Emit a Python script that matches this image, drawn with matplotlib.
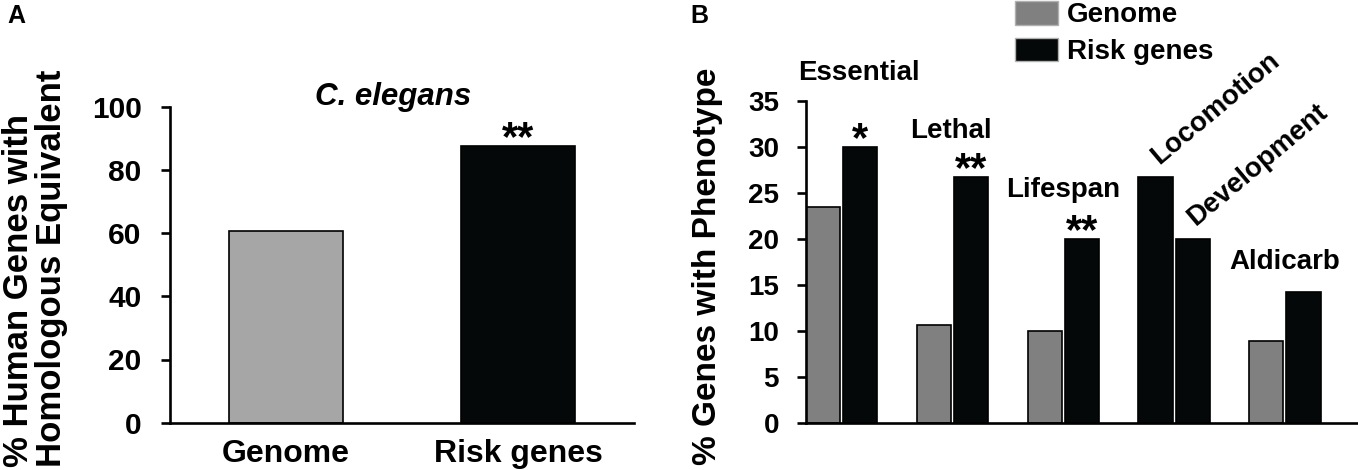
import matplotlib
matplotlib.use('Agg')
import matplotlib.pyplot as plt
from matplotlib.patches import Patch
import numpy as np

# Panel A: human genes with a C. elegans homolog
species = 'C. elegans'
gene_sets = ['Genome', 'Risk genes']
homolog_pct = [60.8, 87.6]
sig_a = ['', '**']

# Panel B: phenotype frequency
phenotypes = ['Essential', 'Lethal', 'Lifespan', 'Locomotion', 'Development', 'Aldicarb']
genome_pct = [23.5, 10.7, 10.0, np.nan, np.nan, 8.9]
risk_pct = [30.0, 26.7, 20.0, 26.7, 20.0, 14.3]
sig_b = ['*', '**', '**', '', '', '']

plt.rcParams['font.family'] = ['Liberation Sans', 'DejaVu Sans']
plt.rcParams['font.weight'] = 'bold'

GRAY_A = '#a6a6a6'
GRAY_B = '#808080'
BLACK = '#050808'

W, H = 1358, 470
fig = plt.figure(figsize=(W / 100, H / 100), dpi=100)


def px_rect(left, top, right, bottom):
    return [left / W, 1 - bottom / H, (right - left) / W, (bottom - top) / H]


def style_axis(ax, fs, pad):
    for s in ['top', 'right']:
        ax.spines[s].set_visible(False)
    for s in ['left', 'bottom']:
        ax.spines[s].set_linewidth(1.9)
    ax.tick_params(axis='y', direction='out', length=6.5, width=1.9,
                   labelsize=fs, pad=pad)
    ax.tick_params(axis='x', length=0)
    for lab in ax.get_yticklabels():
        lab.set_fontweight('bold')


# ---- panel A ----
ax1 = fig.add_axes(px_rect(170, 106.7, 634, 422.7))
xa = np.arange(len(gene_sets))
ax1.bar(xa, homolog_pct, width=0.49, color=[GRAY_A, BLACK],
        edgecolor='black', linewidth=1.2)
ax1.set_xlim(-0.5, 1.5)
ax1.set_ylim(0, 100)
ax1.set_yticks(range(0, 101, 20))
ax1.set_xticks(xa)
ax1.set_xticklabels(gene_sets, fontsize=23, fontweight='bold')
ax1.tick_params(axis='x', pad=12)
style_axis(ax1, 21.5, 14)
for x, v, s in zip(xa, homolog_pct, sig_a):
    if s:
        ax1.annotate(s, (x, v), xytext=(0, -3), textcoords='offset points',
                     ha='center', va='baseline', fontsize=30,
                     fontweight='bold', annotation_clip=False)
ax1.text(0.46, 100.5, species, ha='center', va='baseline', fontsize=22.5,
         fontweight='bold', fontstyle='italic')
fig.text(35.5 / W, 3 / H, '% Human Genes with\nHomologous Equivalent',
         rotation=90, ha='center', va='bottom', multialignment='left',
         fontsize=25, fontweight='bold', linespacing=1.0)
fig.text(7 / W, 1 - 4 / H, 'A', ha='left', va='top', fontsize=18,
         fontweight='bold')

# ---- panel B ----
ax2 = fig.add_axes(px_rect(806, 100.7, 1357, 423.4))
bw = 0.307


def slot_x(slot):
    return slot // 2 + (slot % 2 - 0.5) * 0.335


gx, rx = [], []
slot = 0
for gv in genome_pct:
    if np.isnan(gv):
        gx.append(np.nan)
    else:
        gx.append(slot_x(slot))
        slot += 1
    rx.append(slot_x(slot))
    slot += 1

gx = np.array(gx)
gmask = ~np.isnan(gx)
ax2.bar(gx[gmask], np.array(genome_pct)[gmask], width=bw, color=GRAY_B,
        edgecolor='black', linewidth=1.2)
ax2.bar(rx, risk_pct, width=bw, color=BLACK, edgecolor='black', linewidth=1.2)
ax2.set_xlim(-0.32, 4.65)
ax2.set_ylim(0, 35)
ax2.set_yticks(range(0, 36, 5))
ax2.set_xticks([])
style_axis(ax2, 20, 13)

for x, v, s in zip(rx, risk_pct, sig_b):
    if s:
        ax2.annotate(s, (x, v), xytext=(0, -3), textcoords='offset points',
                     ha='center', va='baseline', fontsize=30,
                     fontweight='bold', annotation_clip=False)

# category label placement (x, y in data units, rotation)
label_pos = {
    'Essential': (0.16, 37.2, 0),
    'Lethal': (0.99, 31.0, 0),
    'Lifespan': (2.0, 24.6, 0),
    'Locomotion': (3.37, 34.2, 40),
    'Development': (3.75, 28.0, 40),
    'Aldicarb': (4.0, 16.8, 0),
}
for name in phenotypes:
    x, y, rot = label_pos[name]
    if rot:
        ax2.text(x, y, name, ha='center', va='center', rotation=rot,
                 rotation_mode='anchor', fontsize=20, fontweight='bold',
                 clip_on=False)
    else:
        ax2.text(x, y, name, ha='center', va='baseline', fontsize=20,
                 fontweight='bold', clip_on=False)

fig.text(707.5 / W, 5 / H, '% Genes with Phenotype', rotation=90,
         ha='center', va='bottom', fontsize=24, fontweight='bold')
fig.text(690 / W, 1 - 4 / H, 'B', ha='left', va='top', fontsize=18,
         fontweight='bold')

handles = [Patch(facecolor=GRAY_B, edgecolor='#b0b0b0', linewidth=1),
           Patch(facecolor=BLACK, edgecolor='#b0b0b0', linewidth=1)]
fig.legend(handles, gene_sets, loc='upper left',
           bbox_to_anchor=(1015 / W, 1 - 1 / H), frameon=False,
           prop={'weight': 'bold', 'size': 20},
           handlelength=1.55, handleheight=0.94, handletextpad=0.32,
           labelspacing=0.33, borderpad=0, borderaxespad=0)

fig.savefig('out.png', dpi=100)
